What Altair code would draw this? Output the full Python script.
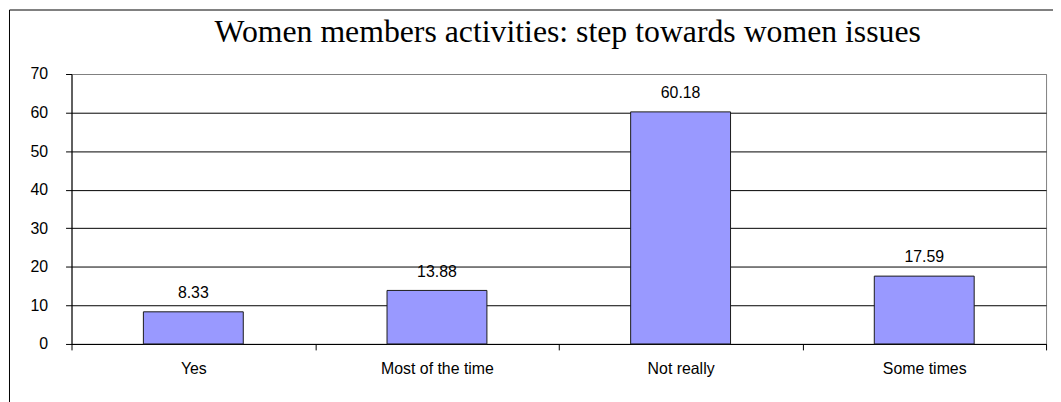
import altair as alt
import pandas as pd

categories = ["Yes", "Most of the time", "Not really", "Some times"]
values = [8.33, 13.88, 60.18, 17.59]
y_ticks = [0, 10, 20, 30, 40, 50, 60, 70]
title_text = ["Women members activities: step towards women issues"]

df = pd.DataFrame({"cat": categories, "val": values})

x_enc = alt.X(
    "cat:N", sort=categories, title=None,
    scale=alt.Scale(paddingInner=0, paddingOuter=0),
    axis=alt.Axis(
        tickBand="extent", labelAngle=0, labelFontSize=16,
        labelFont="Liberation Sans", labelColor="black",
        domainColor="black", tickColor="black", tickSize=6,
        labelPadding=11, grid=False, labelOverlap=False,
    ),
)
y_enc = alt.Y(
    "val:Q", title=None,
    scale=alt.Scale(domain=[0, 70], nice=False),
    axis=alt.Axis(
        values=y_ticks, labelFontSize=16, labelFont="Liberation Sans",
        labelColor="black", domainColor="black", tickColor="black",
        tickSize=6, labelPadding=18, grid=True, labelOverlap=False,
        gridColor={"condition": {"test": "datum.value == 70", "value": "#808080"}, "value": "black"},
        gridOpacity=1, gridWidth=1,
    ),
)

bars = alt.Chart(df).mark_bar(
    width=alt.RelativeBandSize(0.41), fill="#9999FF", stroke="#1a1a1a", strokeWidth=1
).encode(x=x_enc, y=y_enc)

labels = alt.Chart(df).mark_text(
    baseline="middle", dy=-19, fontSize=16, font="Liberation Sans", color="black"
).encode(
    x=x_enc,
    y=y_enc,
    text=alt.Text("val:Q", format=".2f"),
)

title_df = pd.DataFrame({"t": title_text})
title_mark = alt.Chart(title_df).mark_text(
    font="Liberation Serif", fontSize=32, color="black",
    align="center", baseline="alphabetic",
).encode(text="t:N", x=alt.value(500), y=alt.value(-32))

frame_df = pd.DataFrame({"k": [1]})
frame_left = alt.Chart(frame_df).mark_rule(color="black", strokeWidth=1).encode(
    x=alt.value(-62.5), y=alt.value(-64.5), y2=alt.value(600)
)
frame_top = alt.Chart(frame_df).mark_rule(color="black", strokeWidth=1).encode(
    x=alt.value(-62.5), x2=alt.value(1200), y=alt.value(-64.5)
)

chart = alt.layer(bars, labels, title_mark, frame_left, frame_top).properties(
    width=982, height=272,
    autosize=alt.AutoSizeParams(type="none"),
    padding={"left": 64, "top": 65, "right": 7, "bottom": 60},
).configure_view(stroke="#808080", strokeWidth=1)

chart.save("out.html", embed_options={"renderer": "svg", "actions": False})
